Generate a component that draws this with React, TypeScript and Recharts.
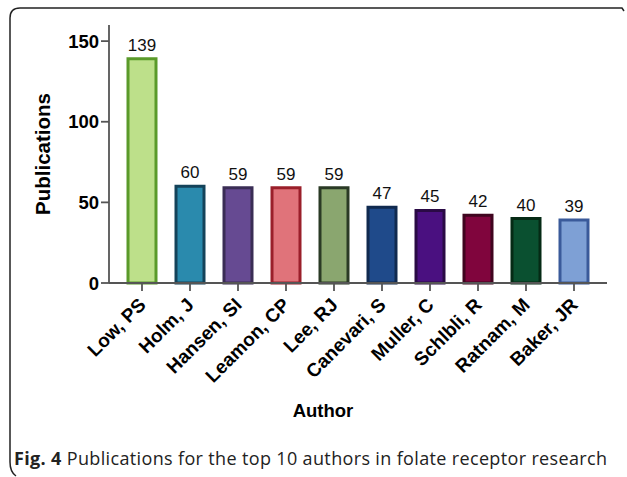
import React from 'react';
import { BarChart, Bar, XAxis, YAxis, Cell, LabelList } from 'recharts';

const authors = [
  'Low, PS',
  'Holm, J',
  'Hansen, SI',
  'Leamon, CP',
  'Lee, RJ',
  'Canevari, S',
  'Muller, C',
  'Schlbli, R',
  'Ratnam, M',
  'Baker, JR',
];
const publications = [139, 60, 59, 59, 59, 47, 45, 42, 40, 39];
const fills = ['#bde08a', '#2a8aad', '#664a92', '#e0737a', '#8aa66f', '#1f4a8a', '#4a1080', '#80053d', '#0a5030', '#7ea0d5'];
const strokes = ['#5a9a2a', '#14435a', '#3a2d55', '#9a1f2a', '#2a3a25', '#102a4f', '#2a0a45', '#40051f', '#052a15', '#3a5a9a'];
const yTicks = [0, 50, 100, 150];

const data = authors.map((author, i) => ({ author, value: publications[i] }));

const font = 'Arial, "Liberation Sans", Helvetica, sans-serif';

const AuthorTick = (props: any) => {
  const { x, y, payload } = props;
  const tx = x + 5;
  const ty = y + 13;
  return (
    <text
      x={tx}
      y={ty}
      transform={`rotate(-45, ${tx}, ${ty})`}
      textAnchor="end"
      fontFamily={font}
      fontWeight="bold"
      fontSize={19}
      fill="#000"
    >
      {payload.value}
    </text>
  );
};

export default function App() {
  return (
    <div style={{ position: 'fixed', left: 0, top: 0, width: 627, height: 477, background: '#fff' }}>
      <svg width={627} height={477} style={{ position: 'absolute', left: 0, top: 0 }}>
        <path d="M10 462 L10 18 Q10 8 20 8 L622 8 L624 11" fill="none" stroke="#222" strokeWidth={1.5} />
        <path d="M10 462 Q10 472 16 476" fill="none" stroke="#222" strokeWidth={1.5} />
        <text
          x={42}
          y={154}
          transform="rotate(-90, 42, 154)"
          textAnchor="middle"
          dominantBaseline="central"
          fontFamily={font}
          fontWeight="bold"
          fontSize={20.5}
        >
          Publications
        </text>
        <text x={323} y={417} textAnchor="middle" fontFamily={font} fontWeight="bold" fontSize={18.5}>
          Author
        </text>
        <text
          x={14}
          y={465}
          fontFamily='"Open Sans", "Noto Sans", sans-serif'
          fontSize={18}
          fill="#222"
          textLength={593}
          lengthAdjust="spacing"
        >
          <tspan fontWeight="bold">Fig. 4</tspan> Publications for the top 10 authors in folate receptor research
        </text>
      </svg>
      <div style={{ position: 'absolute', left: 0, top: 0 }}>
        <BarChart
          width={627}
          height={477}
          data={data}
          margin={{ top: 25, right: 20, left: 49, bottom: 74 }}
          barSize={28}
        >
          <XAxis
            dataKey="author"
            interval={0}
            padding={{ left: 9, right: 9 }}
            height={120}
            tick={<AuthorTick />}
            tickSize={8}
            axisLine={{ stroke: '#555', strokeWidth: 1.8 }}
            tickLine={{ stroke: '#555', strokeWidth: 1.8 }}
          />
          <YAxis
            width={60}
            domain={[0, 160]}
            ticks={yTicks}
            tickSize={8}
            tick={{ fontFamily: font, fontWeight: 'bold', fontSize: 18.5, fill: '#000' }}
            axisLine={{ stroke: '#555', strokeWidth: 1.8 }}
            tickLine={{ stroke: '#555', strokeWidth: 1.8 }}
          />
          <Bar dataKey="value" isAnimationActive={false} strokeWidth={3}>
            {data.map((_, i) => (
              <Cell key={`c-${i}`} fill={fills[i]} stroke={strokes[i]} />
            ))}
            <LabelList
              dataKey="value"
              position="top"
              offset={8}
              style={{ fontFamily: font, fontSize: 17, fill: '#111' }}
            />
          </Bar>
        </BarChart>
      </div>
    </div>
  );
}
